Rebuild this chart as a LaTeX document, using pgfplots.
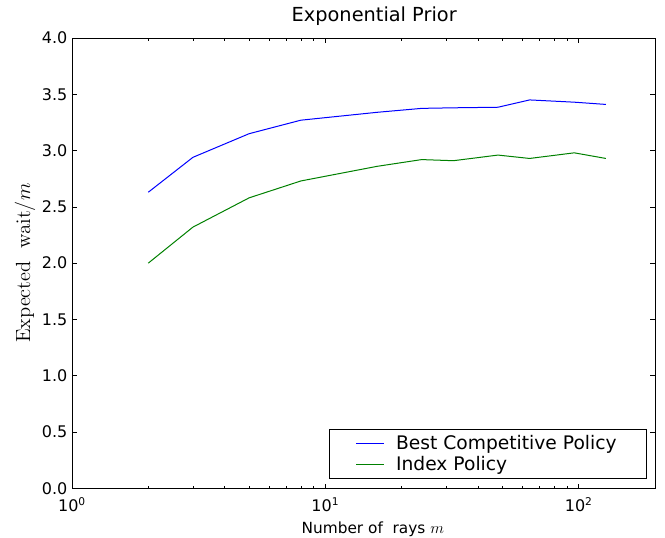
\documentclass[border=0pt]{standalone}
\usepackage[no-math]{fontspec}
\setmainfont{DejaVu Sans}
\usepackage{pgfplots}
\pgfplotsset{compat=1.18}
\definecolor{mblue}{rgb}{0,0,1}
\definecolor{mgreen}{rgb}{0,0.5,0}
\begin{document}
\begin{tikzpicture}
\begin{semilogxaxis}[
  scale only axis, width=437pt, height=337.5pt,
  xmin=1, xmax=200, ymin=0, ymax=4,
  xtick={1,10,100},
  xticklabels={10\textsuperscript{0},10\textsuperscript{1},10\textsuperscript{2}},
  ytick={0,0.5,1,1.5,2,2.5,3,3.5,4},
  yticklabel style={/pgf/number format/.cd, fixed, fixed zerofill, precision=1, assume math mode=true},
  xticklabel style={yshift=-3.5pt},
  tick align=inside, major tick length=3.5pt, minor tick length=2pt,
  every tick/.style={black, line width=0.5pt},
  axis line style={line width=0.7pt},
  tick label style={font=\fontsize{12}{14}\selectfont},
  title={Exponential Prior},
  title style={font=\fontsize{14.5}{16}\selectfont, xshift=8pt},
  xlabel={Number of\ \ rays $m$},
  xlabel style={font=\fontsize{11.5}{13}\selectfont, xshift=7pt, yshift=-1pt},
  ylabel={$\mathrm{Expected\ \ wait}/m$},
  ylabel style={font=\fontsize{14.4}{17}\selectfont, scale=1.065, yshift=-2pt},
  legend style={at={(0.985,0.022)}, anchor=south east, draw=black,
    font=\fontsize{14}{16}\selectfont, inner xsep=20pt, inner ysep=2pt,
    nodes={inner ysep=2pt}},
  legend cell align=left,
  legend image code/.code={\draw[#1, line width=0.75pt] (4pt,0pt) -- (25pt,0pt); \path (31.5pt,0pt);},
]
\addplot[mblue, line width=0.75pt] coordinates {
(2,2.63) (3,2.94) (5,3.15) (8,3.27) (16,3.34) (24,3.375) (32,3.38) (48,3.385) (64,3.45) (96,3.43) (128,3.41)};
\addlegendentry{Best Competitive Policy}
\addplot[mgreen, line width=0.75pt] coordinates {
(2,2.00) (3,2.32) (5,2.58) (8,2.73) (16,2.86) (24,2.92) (32,2.91) (48,2.96) (64,2.93) (96,2.98) (128,2.93)};
\addlegendentry{Index Policy}
\end{semilogxaxis}
\pgfresetboundingbox
\path ([xshift=-54pt,yshift=-36.75pt]current axis.south west) rectangle ([xshift=7.5pt,yshift=28.5pt]current axis.north east);
\end{tikzpicture}
\end{document}
